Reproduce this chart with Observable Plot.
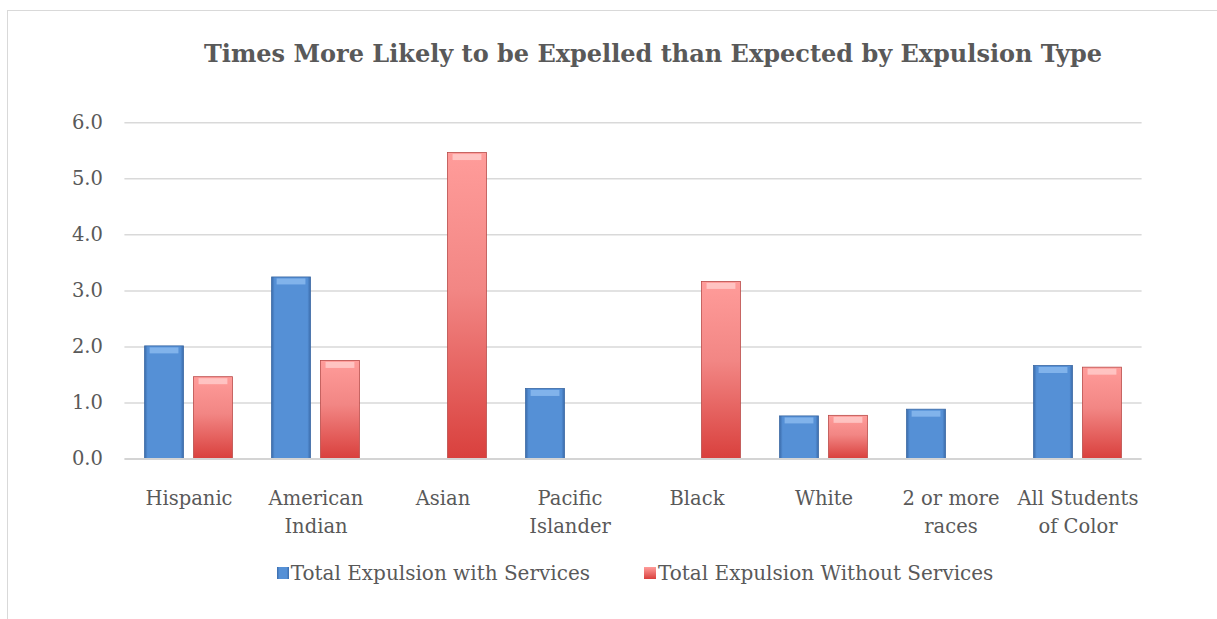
<!DOCTYPE html>
<html>
<head>
<meta charset="utf-8">
<script src="https://cdn.jsdelivr.net/npm/d3@7"></script>
<script src="https://cdn.jsdelivr.net/npm/@observablehq/plot@0.6"></script>
<style>
  html, body { margin: 0; padding: 0; background: #fff; }
  body { width: 1217px; height: 619px; overflow: hidden; position: relative; font-family: "DejaVu Serif", serif; color: #595959; }
  #frame { position: absolute; left: 7px; top: 10px; width: 1230px; height: 640px; border-left: 1.5px solid #d9d9d9; border-top: 1.5px solid #d9d9d9; }
  #title { position: absolute; left: 0; top: 0; width: 1306px; height: 100px; text-align: center; font-weight: bold; font-size: 24px; line-height: 24px; padding-top: 42px; box-sizing: border-box; white-space: nowrap; }
  #chart { position: absolute; left: 0; top: 100px; }
  #legend { position: absolute; left: 0; top: 561px; width: 1217px; height: 30px; font-size: 20px; line-height: 24px; white-space: nowrap; }
  .item { position: absolute; top: 0; display: flex; align-items: center; }
  .sw { width: 12px; height: 12px; margin-right: 2px; display: inline-block; }
</style>
</head>
<body>
<svg width="0" height="0" style="position:absolute">
  <defs>
    <linearGradient id="gBlue" x1="0" y1="0" x2="1" y2="0">
      <stop offset="0" stop-color="#3b6cab"/>
      <stop offset="0.08" stop-color="#5590d6"/>
      <stop offset="0.92" stop-color="#5590d6"/>
      <stop offset="1" stop-color="#3b6cab"/>
    </linearGradient>
    <linearGradient id="gRed" x1="0" y1="0" x2="0" y2="1">
      <stop offset="0" stop-color="#ff9c9a"/>
      <stop offset="0.45" stop-color="#f28684"/>
      <stop offset="1" stop-color="#d9403d"/>
    </linearGradient>
  </defs>
</svg>
<div id="frame"></div>
<div id="title">Times More Likely to be Expelled than Expected by Expulsion Type</div>
<div id="chart"></div>
<div id="legend">
  <div class="item" style="right:627px"><span class="sw" style="background:linear-gradient(90deg,#3b6cab,#5590d6 20%,#5590d6 80%,#3b6cab)"></span>Total Expulsion with Services</div>
  <div class="item" style="left:644px"><span class="sw" style="background:linear-gradient(180deg,#ff9c9a,#d9403d)"></span>Total Expulsion Without Services</div>
</div>
<script>
const categories = ["Hispanic", "American\nIndian", "Asian", "Pacific\nIslander", "Black", "White", "2 or more\nraces", "All Students\nof Color"];
const withServices = [2.01, 3.24, null, 1.25, null, 0.76, 0.88, 1.66];
const withoutServices = [1.46, 1.75, 5.46, null, 3.16, 0.77, null, 1.63];
const yTicks = [0, 1, 2, 3, 4, 5, 6];
const seriesNames = ["Total Expulsion with Services", "Total Expulsion Without Services"];

const blueData = categories.map((c, i) => ({category: c, value: withServices[i]})).filter(d => d.value != null);
const redData = categories.map((c, i) => ({category: c, value: withoutServices[i]})).filter(d => d.value != null);

const step = (1217 - 124.4 - 75.4) / categories.length;
const outer = 19.6;
const inner = step - outer - 39;

const plot = Plot.plot({
  width: 1217,
  height: 450,
  marginLeft: 124.4,
  marginRight: 75.4,
  marginTop: 22.3,
  marginBottom: 91.5,
  style: {fontFamily: "'DejaVu Serif', serif", fontSize: "19.5px", color: "#595959", background: "transparent"},
  x: {domain: categories, padding: 0, label: null},
  y: {domain: [0, 6], label: null},
  marks: [
    Plot.ruleY(yTicks.filter(t => t > 0), {stroke: "#d9d9d9", strokeWidth: 1.5}),
    Plot.axisY(yTicks, {tickSize: 0, tickPadding: 22, tickFormat: d => d.toFixed(1), fontSize: 19.5, fill: "#595959", label: null}),
    Plot.axisX({tickSize: 0, tickPadding: 26, fontSize: 19.5, lineHeight: 1.44, fill: "#595959", label: null}),
    Plot.barY(blueData, {x: "category", y: "value", fill: "url(#gBlue)", stroke: "#3a68a3", strokeWidth: 0.8, insetLeft: outer, insetRight: inner}),
    Plot.barY(redData, {x: "category", y: "value", fill: "url(#gRed)", stroke: "#b94a48", strokeWidth: 0.8, insetLeft: inner, insetRight: outer}),
    Plot.tickY(blueData, {x: "category", y: "value", dy: 4, stroke: "#8cbcf0", strokeOpacity: 0.8, strokeWidth: 6, insetLeft: outer + 5, insetRight: inner + 5}),
    Plot.tickY(redData, {x: "category", y: "value", dy: 4, stroke: "#ffd2d0", strokeOpacity: 0.75, strokeWidth: 6, insetLeft: inner + 5, insetRight: outer + 5}),
    Plot.ruleY([0], {stroke: "#d4d4d4", strokeWidth: 2})
  ]
});
document.getElementById("chart").appendChild(plot);
</script>
</body>
</html>
